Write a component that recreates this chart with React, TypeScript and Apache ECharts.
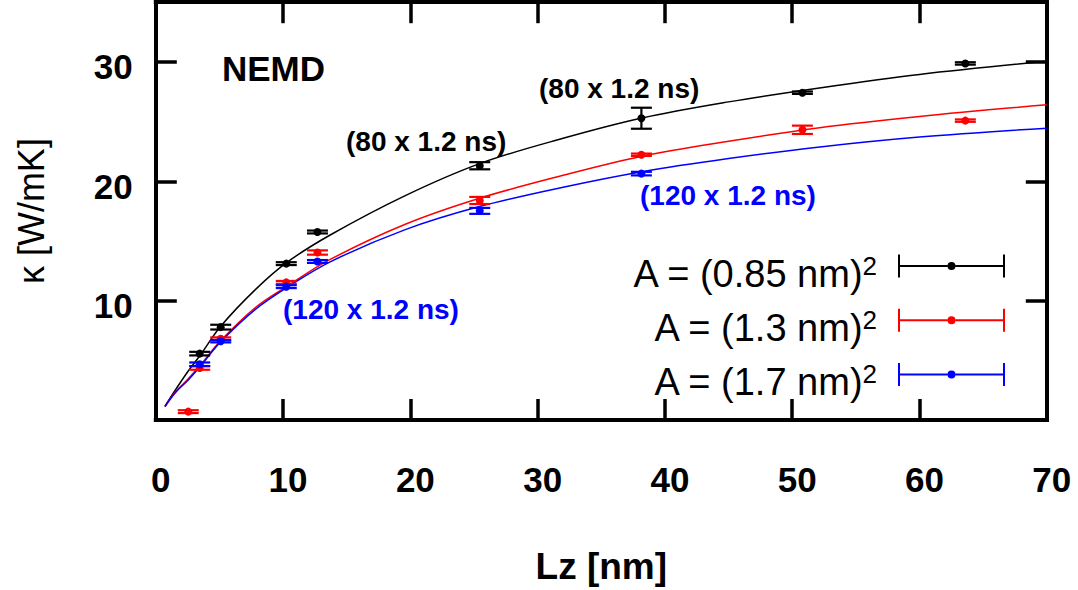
import React, { useEffect, useRef } from 'react';
import * as echarts from 'echarts';

// ---- data ----
const xTickValues = [0, 10, 20, 30, 40, 50, 60, 70];
const yTickLabels = [10, 20, 30];

const seriesNames = ['A = (0.85 nm)^2', 'A = (1.3 nm)^2', 'A = (1.7 nm)^2'];
const legendBase = ['A = (0.85 nm)', 'A = (1.3 nm)', 'A = (1.7 nm)'];
const colors = ['#000000', '#ff0000', '#0000ff'];

const lzBlack = [3.45, 5.1, 10.25, 12.7, 25.45, 38.15, 50.8, 63.6];
const kBlack = [5.56, 7.78, 13.1, 15.75, 21.3, 25.28, 27.42, 29.87];
const eBlack = [0.15, 0.2, 0.12, 0.12, 0.3, 0.88, 0.1, 0.1];

const lzRed = [2.55, 3.45, 5.1, 10.25, 12.7, 25.45, 38.15, 50.8, 63.6];
const kRed = [0.7, 4.36, 6.8, 11.53, 14.03, 18.39, 22.22, 24.31, 25.08];
const eRed = [0.12, 0.15, 0.12, 0.12, 0.18, 0.3, 0.1, 0.35, 0.1];

const lzBlue = [3.45, 5.1, 10.25, 12.7, 25.45, 38.15];
const kBlue = [4.67, 6.6, 11.17, 13.28, 17.52, 20.64];
const eBlue = [0.15, 0.1, 0.12, 0.12, 0.25, 0.15];

const fitLz = [0.72, 1.5, 2.55, 3.5, 5.1, 7.8, 10.3, 13.7, 19.6, 25.5, 32, 38.2, 45, 52, 60, 70];
const fitBlack = [1.15, 2.45, 4.1, 5.45, 7.85, 10.9, 13.2, 15.5, 18.8, 21.5, 23.6, 25.3, 26.65, 27.8, 28.95, 30.05];
const fitRed = [1.12, 2.3, 3.45, 4.6, 6.65, 9.4, 11.2, 13.45, 16.4, 18.6, 20.5, 22.1, 23.35, 24.47, 25.43, 26.4];
const fitBlue = [1.12, 2.25, 3.35, 4.5, 6.55, 9.25, 11.1, 13.25, 15.95, 17.9, 19.5, 20.8, 21.9, 22.85, 23.7, 24.45];

const annotationTexts = ['NEMD', '(80 x 1.2 ns)', '(80 x 1.2 ns)', '(120 x 1.2 ns)', '(120 x 1.2 ns)'];

// ---- layout / style ----
const FONT = "'Liberation Sans', Arial, Helvetica, sans-serif";
const annotationLayout = [
  { x: 222, y: 68, size: 35, color: '#000000' },
  { x: 346, y: 141, size: 28, color: '#000000' },
  { x: 539, y: 88, size: 28, color: '#000000' },
  { x: 283, y: 309, size: 28, color: '#0000ff' },
  { x: 640, y: 195, size: 28, color: '#0000ff' },
];

const ICON =
  'path://M0,0H2V23H0Z M105,0H107V23H105Z M2,10.5H49.5V12.5H2Z M57.5,10.5H105V12.5H57.5Z M49.5,11.5A4,4 0 1,1 57.5,11.5A4,4 0 1,1 49.5,11.5Z';

function errorSeries(name: string, color: string, xs: number[], ys: number[], es: number[]) {
  return {
    type: 'custom',
    name,
    itemStyle: { color },
    encode: { x: 0, y: 1 },
    z: 5,
    data: xs.map((x, i) => [x, ys[i], es[i]]),
    renderItem: (params: any, api: any) => {
      const x = api.value(0);
      const y = api.value(1);
      const e = api.value(2);
      const p = api.coord([x, y]);
      const pt = api.coord([x, y + e]);
      const pb = api.coord([x, y - e]);
      const hw = 10.5;
      const st = { stroke: color, lineWidth: 2.2 };
      return {
        type: 'group',
        children: [
          { type: 'line', shape: { x1: p[0], y1: pt[1], x2: p[0], y2: pb[1] }, style: st },
          { type: 'line', shape: { x1: p[0] - hw, y1: pt[1], x2: p[0] + hw, y2: pt[1] }, style: st },
          { type: 'line', shape: { x1: p[0] - hw, y1: pb[1], x2: p[0] + hw, y2: pb[1] }, style: st },
          { type: 'circle', shape: { cx: p[0], cy: p[1], r: 4 }, style: { fill: color } },
        ],
      };
    },
  };
}

function fitSeries(name: string, color: string, ys: number[]) {
  return {
    type: 'line',
    name,
    data: fitLz.map((x, i) => [x, ys[i]]),
    showSymbol: false,
    symbol: 'none',
    smooth: 0.35,
    lineStyle: { color, width: 1.5 },
    silent: true,
    z: 3,
  };
}

export default function App() {
  const ref = useRef<HTMLDivElement>(null);
  useEffect(() => {
    const chart = echarts.init(ref.current!, null, { renderer: 'svg' });
    const tick = { show: true, inside: true, length: 21, lineStyle: { color: '#000', width: 3.5 } };
    const line = { show: true, onZero: false, lineStyle: { color: '#000', width: 4, cap: 'square' } };
    const option: any = {
      animation: false,
      backgroundColor: '#ffffff',
      grid: {
        left: 155.8,
        right: 31.2,
        top: 2.2,
        bottom: 168.3,
        show: false,
      },
      xAxis: [
        {
          type: 'value',
          min: 0,
          max: 70,
          interval: 10,
          position: 'bottom',
          axisLine: line,
          axisTick: tick,
          splitLine: { show: false },
          axisLabel: {
            fontFamily: FONT,
            fontWeight: 'bold',
            fontSize: 35,
            color: '#000',
            margin: 42,
            padding: [0, 0, 0, 10],
            formatter: (v: number) => (xTickValues.includes(v) ? String(v) : ''),
          },
          name: 'Lz [nm]',
          nameLocation: 'middle',
          nameGap: 128,
          nameTextStyle: { fontFamily: FONT, fontWeight: 'bold', fontSize: 37, color: '#000' },
        },
        {
          type: 'value',
          min: 0,
          max: 70,
          interval: 10,
          position: 'top',
          axisLine: line,
          axisTick: tick,
          splitLine: { show: false },
          axisLabel: { show: false },
        },
      ],
      yAxis: [
        {
          type: 'value',
          min: 0,
          max: 35,
          interval: 10,
          position: 'left',
          axisLine: line,
          axisTick: tick,
          splitLine: { show: false },
          axisLabel: {
            fontFamily: FONT,
            fontWeight: 'bold',
            fontSize: 35,
            color: '#000',
            margin: 23,
            verticalAlign: 'top',
            lineHeight: 10,
            formatter: (v: number) => (yTickLabels.includes(v) ? String(v) : ''),
          },
          name: 'κ [W/mK]',
          nameLocation: 'middle',
          nameRotate: 90,
          nameGap: 106,
          nameTextStyle: { fontFamily: FONT, fontSize: 36, color: '#000' },
        },
        {
          type: 'value',
          min: 0,
          max: 35,
          interval: 10,
          position: 'right',
          axisLine: line,
          axisTick: tick,
          splitLine: { show: false },
          axisLabel: { show: false },
        },
      ],
      legend: {
        orient: 'vertical',
        align: 'right',
        right: 73,
        top: 253,
        padding: 0,
        itemGap: 14.2,
        itemWidth: 107,
        itemHeight: 23,
        selectedMode: false,
        itemStyle: { borderWidth: 0 },
        data: seriesNames.map((n, i) => ({ name: n, icon: ICON, itemStyle: { color: colors[i], borderWidth: 0 } })),
        formatter: (name: string) => {
          const i = seriesNames.indexOf(name);
          return `{a|${legendBase[i]}}{s|2}{g|}`;
        },
        textStyle: {
          fontFamily: FONT,
          color: '#000',
          rich: {
            a: { fontFamily: FONT, fontSize: 38, lineHeight: 36, color: '#000', verticalAlign: 'bottom' },
            s: { fontFamily: FONT, fontSize: 26, lineHeight: 54, color: '#000' },
            g: { width: 16, lineHeight: 54 },
          },
        },
      },
      graphic: annotationTexts.map((t, i) => ({
        type: 'text',
        x: annotationLayout[i].x,
        y: annotationLayout[i].y,
        silent: true,
        z: 10,
        style: {
          text: t,
          fontFamily: FONT,
          fontWeight: 'bold',
          fontSize: annotationLayout[i].size,
          fill: annotationLayout[i].color,
          align: 'left',
          verticalAlign: 'middle',
        },
      })),
      series: [
        fitSeries('fit0', colors[0], fitBlack),
        fitSeries('fit1', colors[1], fitRed),
        fitSeries('fit2', colors[2], fitBlue),
        errorSeries(seriesNames[0], colors[0], lzBlack, kBlack, eBlack),
        errorSeries(seriesNames[1], colors[1], lzRed, kRed, eRed),
        errorSeries(seriesNames[2], colors[2], lzBlue, kBlue, eBlue),
      ],
    };
    chart.setOption(option);
    return () => chart.dispose();
  }, []);
  return (
    <div
      ref={ref}
      style={{ position: 'fixed', left: 0, top: 0, width: 1078, height: 590, background: '#fff' }}
    />
  );
}
